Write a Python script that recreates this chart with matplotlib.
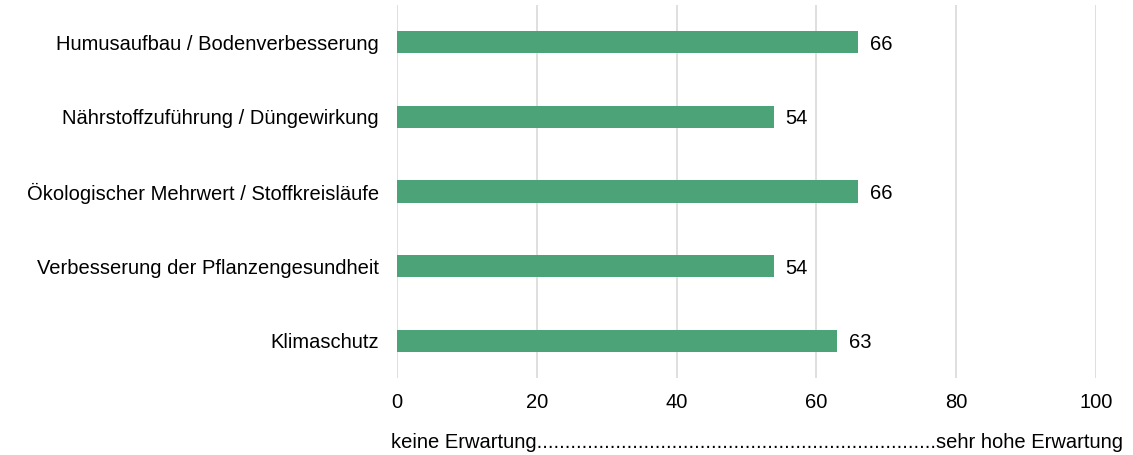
import numpy as np
import matplotlib.pyplot as plt

plt.rcParams['font.family'] = ['Liberation Sans', 'DejaVu Sans']

categories = ['Humusaufbau / Bodenverbesserung',
              'Nährstoffzuführung / Düngewirkung',
              'Ökologischer Mehrwert / Stoffkreisläufe',
              'Verbesserung der Pflanzengesundheit',
              'Klimaschutz']
values = [66, 54, 66, 54, 63]
xticks = [0, 20, 40, 60, 80, 100]
bar_color = '#4ba377'

fs = 14.5

fig = plt.figure(figsize=(11.33, 4.55), dpi=100)
ax = fig.add_axes([397/1133, 1 - 378/455, (1096 - 397)/1133, 373/455])

y = np.arange(len(categories))
ax.barh(y, values, height=0.3, color=bar_color, zorder=3)
for yi, v in zip(y, values):
    ax.text(v + 1.6, yi, str(v), va='center_baseline', ha='left', fontsize=fs)

ax.set_ylim(len(categories) - 0.5, -0.5)
ax.set_xlim(0, 100)
ax.set_yticks(y)
ax.set_yticklabels(categories, fontsize=fs)
ax.set_xticks(xticks)
ax.set_xticklabels([str(t) for t in xticks], fontsize=fs)
ax.tick_params(length=0)
ax.tick_params(axis='x', pad=11)
ax.tick_params(axis='y', pad=13)
ax.grid(axis='x', color='#d9d9d9', linewidth=1.2, zorder=0)
for s in ax.spines.values():
    s.set_visible(False)

fig.text(391/1133, 1 - 442/455,
         'keine Erwartung' + '.' * 71 + 'sehr hohe Erwartung',
         ha='left', va='center', fontsize=fs)

fig.savefig('out.png', dpi=100)
